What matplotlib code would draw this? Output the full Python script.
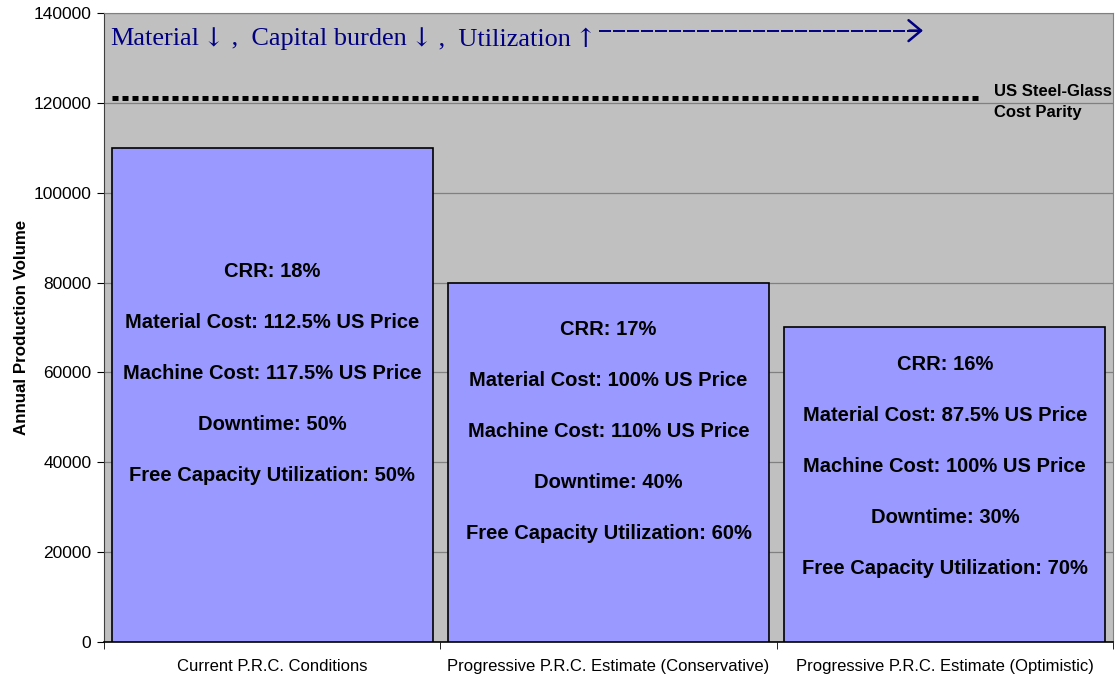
import matplotlib
matplotlib.use("Agg")
import matplotlib.pyplot as plt

plt.rcParams['font.family'] = ['Liberation Sans', 'DejaVu Sans']

# data
categories = ['Current P.R.C. Conditions',
              'Progressive P.R.C. Estimate (Conservative)',
              'Progressive P.R.C. Estimate (Optimistic)']
volumes = [110000, 80000, 70000]
parity_value = 121000
parity_label = 'US Steel-Glass\nCost Parity'
crr = ['18%', '17%', '16%']
material_cost = ['112.5%', '100%', '87.5%']
machine_cost = ['117.5%', '110%', '100%']
downtime = ['50%', '40%', '30%']
free_capacity = ['50%', '60%', '70%']
headline = [('Material', 'text'), ('\u2193', 'arrow'),
            (' ,  Capital burden', 'text'), ('\u2193', 'arrow'),
            (' ,  Utilization', 'text'), ('\u2191', 'arrow')]
# vertical centre of each text block inside the bars
text_centres = [59800, 46900, 39000]

fig = plt.figure(figsize=(11.17, 6.79), dpi=100)
ax = fig.add_axes([0.0931, 0.0545, 0.9033, 0.9264])
ax.set_facecolor('#C0C0C0')

x = list(range(len(categories)))
ax.bar(x, volumes, width=0.955, color='#9999FF', edgecolor='black',
       linewidth=1.2, zorder=3)

ax.set_xlim(-0.5, len(categories) - 0.5)
ax.set_ylim(0, 140000)
ax.set_yticks(range(0, 140001, 20000))
ax.yaxis.grid(True, color='#808080', linewidth=0.9, zorder=0)
ax.set_axisbelow(True)

# category labels between boundary ticks
ax.set_xticks(x)
ax.set_xticklabels(categories, fontsize=12)
ax.tick_params(axis='x', which='major', length=0, pad=12)
ax.set_xticks([i - 0.5 for i in range(len(categories) + 1)], minor=True)
ax.tick_params(axis='x', which='minor', length=5, direction='out')
ax.tick_params(axis='y', labelsize=12.5, length=5, direction='out', pad=4)

for side in ['top', 'right']:
    ax.spines[side].set_color('#808080')
ax.spines['left'].set_color('#404040')
ax.spines['bottom'].set_color('black')
ax.spines['bottom'].set_linewidth(1.2)

ax.set_ylabel('Annual Production Volume', fontsize=12.2, fontweight='bold',
              labelpad=3)

# cost parity line
ax.hlines(parity_value, -0.477, 2.1, colors='black', linewidth=3.6,
          linestyles=(0, (1.2, 0.8)), zorder=4)
ax.text(2.146, parity_value - 800, parity_label, fontsize=12,
        fontweight='bold', va='center', ha='left', linespacing=1.5,
        zorder=5)

# text blocks inside bars
for i in x:
    lines = [f'CRR: {crr[i]}',
             f'Material Cost: {material_cost[i]} US Price',
             f'Machine Cost: {machine_cost[i]} US Price',
             f'Downtime: {downtime[i]}',
             f'Free Capacity Utilization: {free_capacity[i]}']
    for j, line in enumerate(lines):
        ax.text(i, text_centres[i] + (2 - j) * 11350, line, ha='center',
                va='center', fontsize=14.5, fontweight='bold', zorder=5)

# headline, pieces placed one after another (arrows need a taller glyph)
navy = '#000080'
renderer = fig.canvas.get_renderer()
px = 1.0 / ax.get_window_extent(renderer).width
hx = 0.0059
for piece, kind in headline:
    if kind == 'arrow':
        t = ax.text(hx + 4 * px, 0.946, piece, transform=ax.transAxes,
                    family=['DejaVu Serif'], fontsize=18.5, color=navy,
                    va='baseline', ha='left', zorder=5)
    else:
        t = ax.text(hx, 0.9491, piece, transform=ax.transAxes,
                    family=['Liberation Serif', 'DejaVu Serif'], fontsize=18.9,
                    color=navy, va='baseline', ha='left', zorder=5)
    bb = t.get_window_extent(renderer)
    hx = ax.transAxes.inverted().transform((bb.x1, bb.y0))[0]

ax.plot([0.4906, 0.809], [0.9719, 0.9719], transform=ax.transAxes,
        color=navy, linewidth=1.4, linestyle=(0, (6.2, 1.0)), zorder=5)
ax.annotate('', xy=(0.8117, 0.9719), xytext=(0.798, 0.9719),
            xycoords='axes fraction', textcoords='axes fraction',
            arrowprops=dict(arrowstyle='->, head_length=0.6, head_width=0.5',
                            color=navy, lw=1.8, mutation_scale=15,
                            shrinkA=0, shrinkB=0),
            zorder=5)

fig.savefig('out.png', dpi=100)
